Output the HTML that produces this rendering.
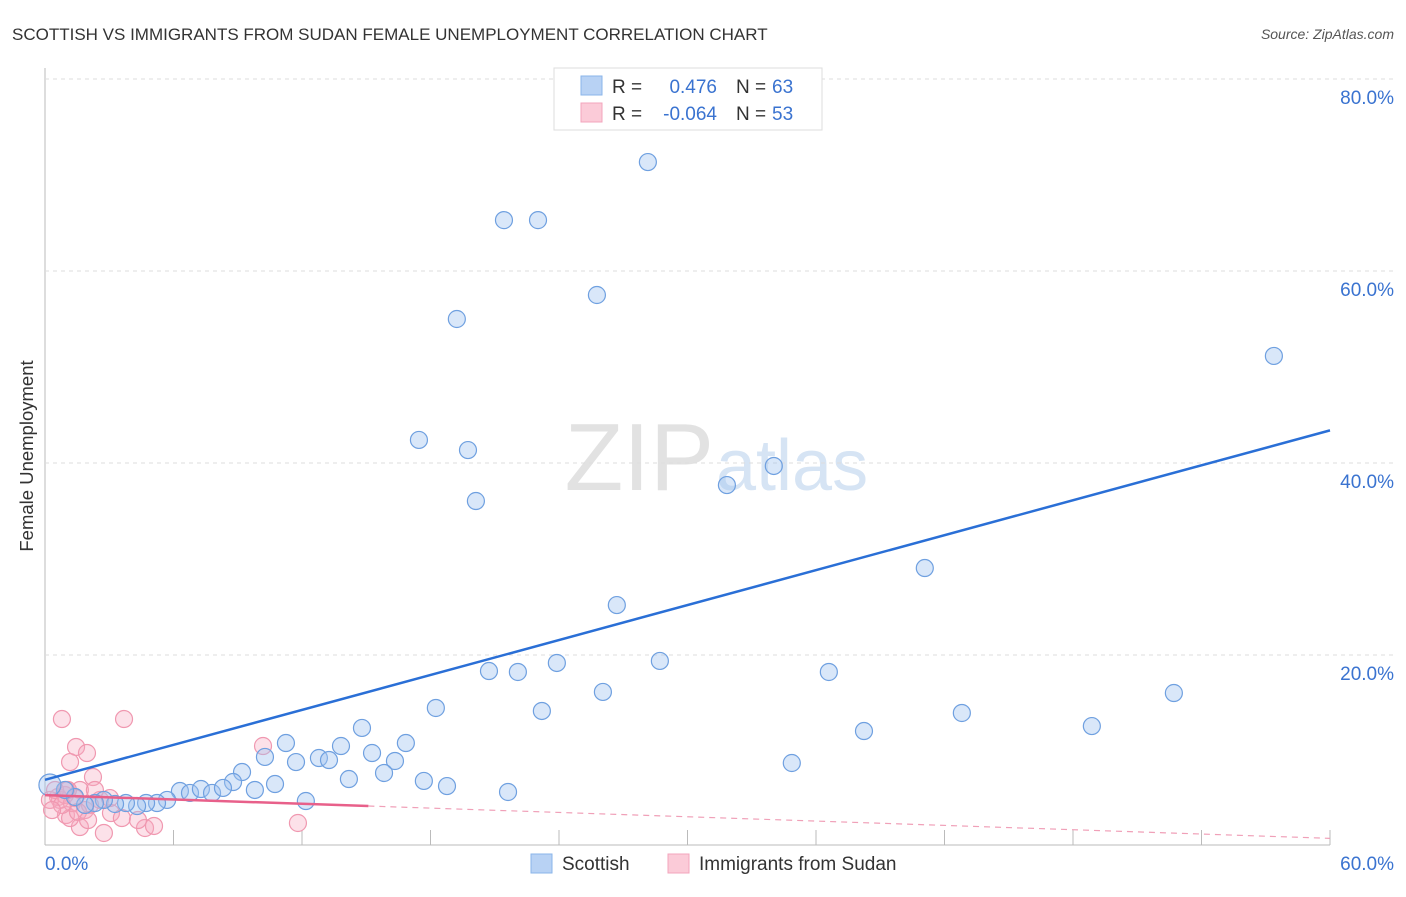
<!DOCTYPE html>
<html><head><meta charset="utf-8"><style>
body{margin:0;background:#fff;font-family:"Liberation Sans",sans-serif;}
svg text{font-family:"Liberation Sans",sans-serif;}
</style></head><body>
<svg width="1406" height="892">
<text x="12" y="40" font-size="17" fill="#333">SCOTTISH VS IMMIGRANTS FROM SUDAN FEMALE UNEMPLOYMENT CORRELATION CHART</text>
<text x="1394" y="39" font-size="14" fill="#555" font-style="italic" text-anchor="end">Source: ZipAtlas.com</text>
<text x="714" y="490" font-size="96" fill="#e2e2e2" text-anchor="end" font-family="Liberation Serif">ZIP</text>
<text x="716" y="490" font-size="72" fill="#d6e4f4">atlas</text>
<text transform="translate(33,456) rotate(-90)" font-size="18.5" fill="#333" text-anchor="middle">Female Unemployment</text>
<g id="grid"></g><g id="pts"></g><g id="lines"></g>
<g>
<rect x="554" y="68" width="268" height="62" fill="#fff" stroke="#ddd"/>
<rect x="581" y="76" width="21" height="19" fill="#b8d2f4" stroke="#8ab4ea"/>
<rect x="581" y="103" width="21" height="19" fill="#fbcbd8" stroke="#f3a5bc"/>
<text x="612" y="93" font-size="19" fill="#333">R = </text><text x="717" y="93" font-size="19" fill="#3a73d0" text-anchor="end">0.476</text>
<text x="736" y="93" font-size="19" fill="#333">N = </text><text x="772" y="93" font-size="19" fill="#3a73d0">63</text>
<text x="612" y="120" font-size="19" fill="#333">R = </text><text x="717" y="120" font-size="19" fill="#3a73d0" text-anchor="end">-0.064</text>
<text x="736" y="120" font-size="19" fill="#333">N = </text><text x="772" y="120" font-size="19" fill="#3a73d0">53</text>
</g>
<g>
<rect x="531" y="854" width="21" height="19" fill="#b8d2f4" stroke="#8ab4ea"/>
<text x="562" y="870" font-size="19" fill="#333">Scottish</text>
<rect x="668" y="854" width="21" height="19" fill="#fbcbd8" stroke="#f3a5bc"/>
<text x="699" y="870" font-size="19" fill="#333">Immigrants from Sudan</text>
</g>
<text x="45" y="870" font-size="19" fill="#3a73d0">0.0%</text>
<text x="1394" y="870" font-size="19" fill="#3a73d0" text-anchor="end">60.0%</text>
</svg>
<script>
const yTicks=[20,40,60,80];
const yTickLabels=["20.0%","40.0%","60.0%","80.0%"];
const blueX=[28.15,21.43,23.02,25.77,19.23,57.38,17.46,19.75,20.12,31.84,34.03,41.08,26.70,23.90,28.71,20.73,22.08,36.60,26.05,52.71,18.25,23.20,42.81,38.24,48.88,14.80,11.25,13.82,16.85,10.27,15.27,11.72,12.79,13.26,16.34,15.83,14.19,9.20,8.78,17.69,18.77,10.74,21.62,34.87,12.18,6.30,6.77,7.28,7.80,8.31,9.80,5.70,5.23,4.72,4.30,3.78,3.27,2.75,2.33,1.87,1.40,0.93,0.23];
const blueY=[71.35,65.3,65.3,57.5,55.0,51.15,42.4,41.35,36.04,37.7,39.69,29.06,25.2,19.17,19.38,18.33,18.23,18.23,16.15,16.04,14.48,14.17,13.96,12.08,12.6,12.4,10.83,10.52,10.83,9.38,9.79,8.85,9.27,9.06,8.96,7.71,7.08,7.81,6.77,6.88,6.35,6.56,5.73,8.75,4.79,5.83,5.63,6.04,5.63,6.15,5.94,4.90,4.58,4.58,4.27,4.58,4.48,4.90,4.58,4.38,5.21,5.94,6.46];
const pinkX=[0.79,3.69,1.45,1.96,10.18,1.17,2.24,11.81,3.08,4.67,5.09,2.75,1.63,0.98,1.17,3.59,4.34,0.61,0.70,0.93,1.26,1.63,1.87,0.23,0.47,1.40,2.57,2.10,1.07,3.03,2.33,0.79,1.54,2.01,0.98,0.33];
const pinkY=[13.33,13.33,10.42,9.79,10.52,8.85,7.29,2.5,3.54,1.98,2.19,1.46,2.08,3.33,3.02,3.02,2.81,5.21,4.9,5.42,4.58,5.94,3.85,4.9,5.94,5.1,4.9,4.38,5.94,5.1,5.94,4.38,3.65,2.81,5.94,3.85];
const blueTrend=[7.0,43.4];
const pinkTrend=[5.4,0.9];
const xMax=60;
const X=v=>45+v*1285/60, Y=v=>847-v*9.6;
const NS="http://www.w3.org/2000/svg";
function mk(t,a,p){const e=document.createElementNS(NS,t);for(const k in a)e.setAttribute(k,a[k]);document.getElementById(p).appendChild(e);return e;}
let ax=mk('line',{x1:45,y1:68,x2:45,y2:845,stroke:'#bbb'},'grid');


let bx=mk('line',{x1:45,y1:845,x2:1330,y2:845,stroke:'#bbb'},'grid');


for(let i=1;i<=10;i++){const t=mk('line',{x1:X(i*6),y1:830,x2:X(i*6),y2:845,stroke:'#bbb'},'grid');

}
yTicks.forEach((v,i)=>{const g=mk('line',{x1:45,y1:Y(v),x2:1394,y2:Y(v),stroke:'#ddd','stroke-dasharray':'4 4'},'grid');


const t=mk('text',{x:1394,y:Y(v)+25,'font-size':19,fill:'#3a73d0','text-anchor':'end'},'grid');t.textContent=yTickLabels[i];

});
pinkX.forEach((v,i)=>{const c=mk('circle',{cx:X(v),cy:Y(pinkY[i]),r:8.5,fill:'rgba(246,170,192,0.35)',stroke:'#f098b0','stroke-width':1.2},'pts');

});
blueX.forEach((v,i)=>{const c=mk('circle',{cx:X(v),cy:Y(blueY[i]),r:i==blueX.length-1?11:8.5,fill:'rgba(160,196,240,0.4)',stroke:'#6fa0e0','stroke-width':1.2},'pts');

});
let bl=mk('line',{x1:X(0),y1:Y(blueTrend[0]),x2:X(xMax),y2:Y(blueTrend[1]),stroke:'#2a6fd6','stroke-width':2.5},'lines');


const pAt=v=>pinkTrend[0]+(pinkTrend[1]-pinkTrend[0])*v/xMax;
let pl=mk('line',{x1:X(0),y1:Y(pAt(0)),x2:X(15.1),y2:Y(pAt(15.1)),stroke:'#e8608a','stroke-width':2.5},'lines');


let pd=mk('line',{x1:X(15.1),y1:Y(pAt(15.1)),x2:X(xMax),y2:Y(pAt(xMax)),stroke:'#f0a0b8','stroke-width':1.2,'stroke-dasharray':'6 5'},'lines');


</script>
</body></html>
